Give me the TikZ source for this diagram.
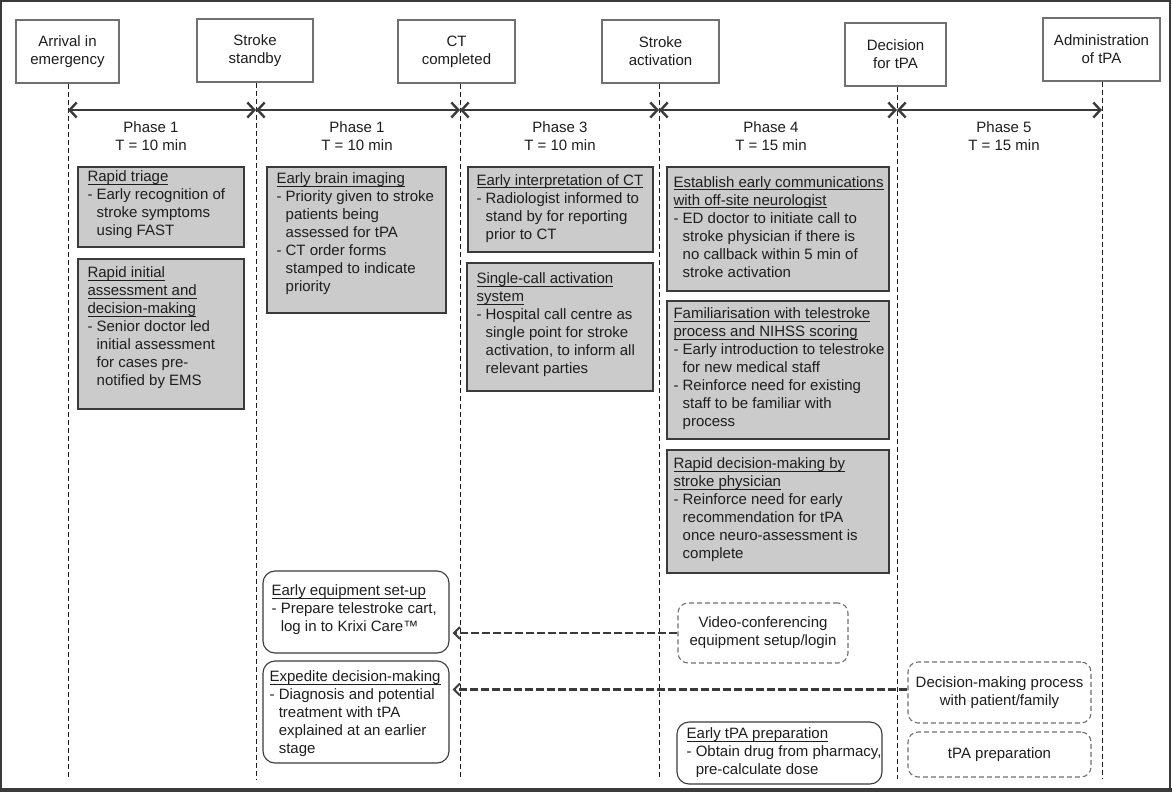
\documentclass[tikz,border=0pt]{standalone}
\usepackage{fontspec}
\setmainfont{Liberation Sans}
\usetikzlibrary{arrows.meta,calc}
\definecolor{boxgray}{HTML}{CBCBCB}
\definecolor{edge}{HTML}{3A3A3A}
\definecolor{topedge}{HTML}{707070}
\definecolor{ink}{HTML}{1E1E1E}
\newcommand\hg{\hphantom{- }}
\newsavebox\ulbox
\newcommand\uln[1]{\sbox\ulbox{#1}\rlap{\rule[-2.8pt]{\wd\ulbox}{0.9pt}}\usebox\ulbox}
\newcommand\mkbox[9]{%
  \node[#1, minimum width={#5-#3}, minimum height={#6-#4}] (#2) at ({(#3+#5)/2},{(#4+#6)/2}) {};
  \node[txt] (#2-t) at ([shift={(#7,#8)}]#2.west) {#9};
}
\tikzset{
  every node/.style={font=\fontsize{15}{18}\selectfont, text=ink},
  topbox/.style={draw=topedge, line width=1.2pt, fill=white, align=center, inner sep=0pt},
  graybox/.style={draw=edge, line width=1.4pt, fill=boxgray, inner sep=0pt},
  rbox/.style={draw=edge, line width=1.1pt, rounded corners=12pt, fill=white, inner sep=0pt},
  dbox/.style={draw=topedge, line width=1.1pt, dash pattern=on 5pt off 3pt, rounded corners=10pt, fill=white, inner sep=0pt, align=center},
  txt/.style={anchor=west, align=left, inner sep=0pt},
  vline/.style={draw=ink, line width=0.8pt, dash pattern=on 5pt off 3pt},
  phase/.style={draw=edge, line width=2.4pt, {Straight Barb[length=7pt,width=15pt]}-{Straight Barb[length=7pt,width=15pt]}},
  darr/.style={draw=edge, line width=2.8pt, dash pattern=on 8pt off 3pt, -{Straight Barb[length=6pt,width=12pt,line width=2pt]}, shorten >=3pt},
  plabel/.style={align=center, inner sep=0pt},
}
\begin{document}
\begin{tikzpicture}[x=1pt,y=-1pt]
\useasboundingbox (0,0) rectangle (1172,792);
\fill[white] (0,0) rectangle (1172,792);
\draw[edge, line width=1.5pt] (1,1) rectangle (1170,790);
\draw[edge, line width=3.5pt] (0,790) -- (1172,790);

% top milestone boxes
\node[topbox, minimum width=103, minimum height=63] (A) at (67.5,51.5) {Arrival in\\emergency};
\node[topbox, minimum width=116, minimum height=63] (B) at (255,50.5) {Stroke\\standby};
\node[topbox, minimum width=117, minimum height=63] (C) at (456.5,51.5) {CT\\completed};
\node[topbox, minimum width=117, minimum height=63] (D) at (660.5,51.5) {Stroke\\activation};
\node[topbox, minimum width=101, minimum height=63] (E) at (895.5,54.5) {Decision\\for tPA};
\node[topbox, minimum width=117, minimum height=63] (F) at (1101.5,49.5) {Administration\\of tPA};

% timeline coordinates
\coordinate (t1) at (68,110);
\coordinate (t2) at (256,110);
\coordinate (t3) at (460,110);
\coordinate (t4) at (659,110);
\coordinate (t5) at (897,110);
\coordinate (t6) at (1102,110);
\coordinate (bot) at (0,779);

\draw[vline] (t1 |- A.south) -- (t1 |- bot);
\draw[vline] (t2 |- B.south) -- (t2 |- bot);
\draw[vline] (t3 |- C.south) -- (t3 |- bot);
\draw[vline] (t4 |- D.south) -- (t4 |- bot);
\draw[vline] (t5 |- E.south) -- (t5 |- bot);
\draw[vline] (t6 |- F.south) -- (t6 |- bot);

\draw[phase] (t1) -- (t2);
\draw[phase] (t2) -- (t3);
\draw[phase] (t3) -- (t4);
\draw[phase] (t4) -- (t5);
\draw[phase] (t5) -- (t6);

\node[plabel] (p1) at (151,136) {Phase 1\\T = 10 min};
\node[plabel] (p2) at (357,136) {Phase 1\\T = 10 min};
\node[plabel] (p3) at (560,136) {Phase 3\\T = 10 min};
\node[plabel] (p4) at (771,136) {Phase 4\\T = 15 min};
\node[plabel] (p5) at (1004,136) {Phase 5\\T = 15 min};

% gray intervention boxes
\mkbox{graybox}{g1}{78}{167}{244}{247}{10}{-2}{\uln{Rapid triage}\\- Early recognition of\\\hg stroke symptoms\\\hg using FAST}
\mkbox{graybox}{g2}{78}{259}{244}{409}{10}{-6}{\uln{Rapid initial}\\\uln{assessment and}\\\uln{decision-making}\\- Senior doctor led\\\hg initial assessment\\\hg for cases pre-\\\hg notified by EMS}
\mkbox{graybox}{g3}{267}{167}{446}{313}{10}{-6}{\uln{Early brain imaging}\\- Priority given to stroke\\\hg patients being\\\hg assessed for tPA\\- CT order forms\\\hg stamped to indicate\\\hg priority}
\mkbox{graybox}{g4}{468}{167}{653}{252}{9}{-1}{\uln{Early interpretation of CT}\\- Radiologist informed to\\\hg stand by for reporting\\\hg prior to CT}
\mkbox{graybox}{g5}{467}{263}{653}{391}{10}{-2}{\uln{Single-call activation}\\\uln{system}\\- Hospital call centre as\\\hg single point for stroke\\\hg activation, to inform all\\\hg relevant parties}
\mkbox{graybox}{g6}{667}{167}{889}{291}{7}{-2}{\uln{Establish early communications}\\\uln{with off-site neurologist}\\- ED doctor to initiate call to\\\hg stroke physician if there is\\\hg no callback within 5 min of\\\hg stroke activation}
\mkbox{graybox}{g7}{667}{301}{889}{439}{7}{-1}{\uln{Familiarisation with telestroke}\\\uln{process and NIHSS scoring}\\- Early introduction to telestroke\\\hg for new medical staff\\- Reinforce need for existing\\\hg staff to be familiar with\\\hg process}
\mkbox{graybox}{g8}{667}{450}{889}{573}{7}{-1.5}{\uln{Rapid decision-making by}\\\uln{stroke physician}\\- Reinforce need for early\\\hg recommendation for tPA\\\hg once neuro-assessment is\\\hg complete}

% rounded boxes
\mkbox{rbox}{r1}{263}{571}{449}{653}{9}{-2}{\uln{Early equipment set-up}\\- Prepare telestroke cart,\\\hg log in to Krixi Care™}
\mkbox{rbox}{r2}{263}{661}{449}{763}{7}{2}{\uln{Expedite decision-making}\\- Diagnosis and potential\\\hg treatment with tPA\\\hg explained at an earlier\\\hg stage}
\mkbox{rbox}{r3}{677}{722}{882}{784}{10}{0}{\uln{Early tPA preparation}\\- Obtain drug from pharmacy,\\\hg pre-calculate dose}

% dashed task boxes
\node[dbox, minimum width=170, minimum height=60] (d1) at (763,633) {Video-conferencing\\equipment setup/login};
\node[dbox, minimum width=183, minimum height=61] (d2) at (999.5,692.5) {Decision-making process\\with patient/family};
\node[dbox, minimum width=183, minimum height=45] (d3) at (999.5,754.5) {tPA preparation};

% dashed connectors
\draw[darr] (d1.west) -- (d1.west -| r1.east);
\draw[darr] ([yshift=3]d2.west) -- ([yshift=3]d2.west -| r2.east);
\end{tikzpicture}
\end{document}
